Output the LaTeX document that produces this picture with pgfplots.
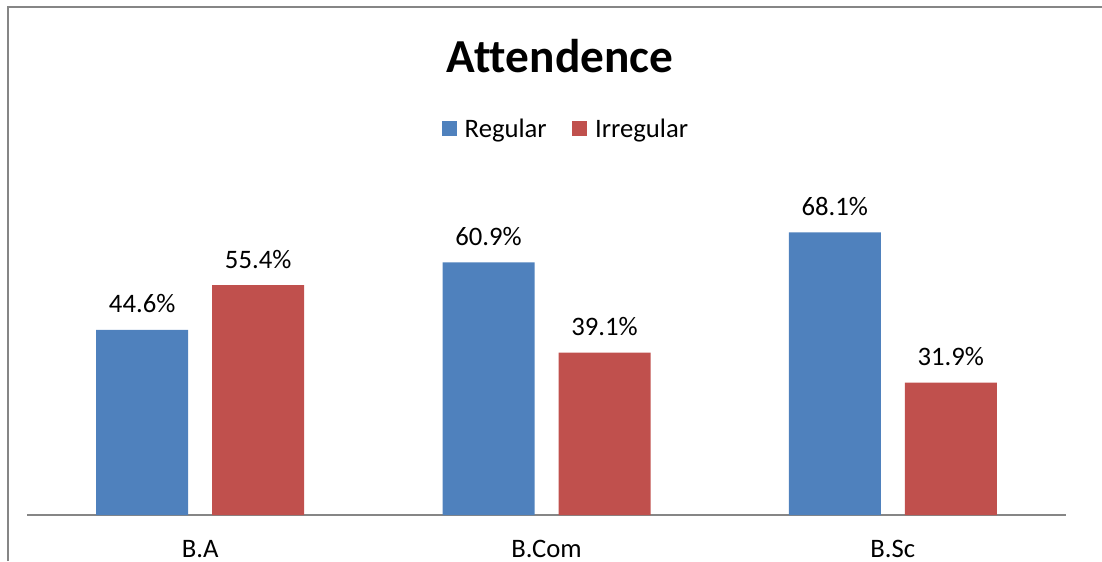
\documentclass[border=0pt]{standalone}
\usepackage{pgfplots}
\pgfplotsset{compat=1.18}
\usepackage{fontspec}
\setmainfont{Carlito}[Ligatures=CommonOff]

\definecolor{xlblue}{HTML}{4F81BD}
\definecolor{xlred}{HTML}{C0504D}
\definecolor{frame}{HTML}{868686}

\begin{document}
\begin{tikzpicture}
\useasboundingbox (0,0) rectangle (826.5pt,420.75pt);
\draw[frame, line width=1.6pt] (5.9pt,0) -- (5.9pt,415.5pt) -- (826.5pt,415.5pt);
\begin{axis}[
    at={(20.25pt,34.5pt)}, anchor=south west,
    scale only axis,
    width=779.25pt, height=249pt,
    ybar=18pt, bar width=69pt,
    xmin=-0.5, xmax=2.5, ymin=0, ymax=80,
    clip=false,
    axis x line*=bottom, axis y line=none,
    x axis line style={frame, line width=1.1pt, -},
    xtick={0,1,2}, xticklabels={B.A, B.Com, B.Sc},
    major tick length=0pt,
    xticklabel style={anchor=base, yshift=-31.5pt, font=\fontsize{20}{24}\selectfont},
    title={Attendence},
    title style={at={(0.513,1.335)}, anchor=base, yshift=-6.75pt, font=\fontsize{35.5}{42}\selectfont\bfseries},
    legend style={at={(0.519,1.163)}, anchor=center, draw=none, legend columns=-1,
        font=\fontsize{20}{24}\selectfont,
        /tikz/every even column/.append style={column sep=17pt},
        /tikz/every odd column/.append style={column sep=4pt}},
    legend image code/.code={\fill[#1] (0pt,-5.6pt) rectangle (11.25pt,5.6pt);},
    nodes near coords={\pgfmathprintnumber[fixed,fixed zerofill,precision=1,assume math mode=true]{\pgfplotspointmeta}\%},
    nodes near coords style={anchor=base, yshift=12.75pt, font=\fontsize{20}{24}\selectfont, black},
]
\addplot[fill=xlblue, draw=none] coordinates {(0,44.6) (1,60.9) (2,68.1)};
\addplot[fill=xlred, draw=none] coordinates {(0,55.4) (1,39.1) (2,31.9)};
\legend{Regular, Irregular}
\end{axis}
\end{tikzpicture}
\end{document}
